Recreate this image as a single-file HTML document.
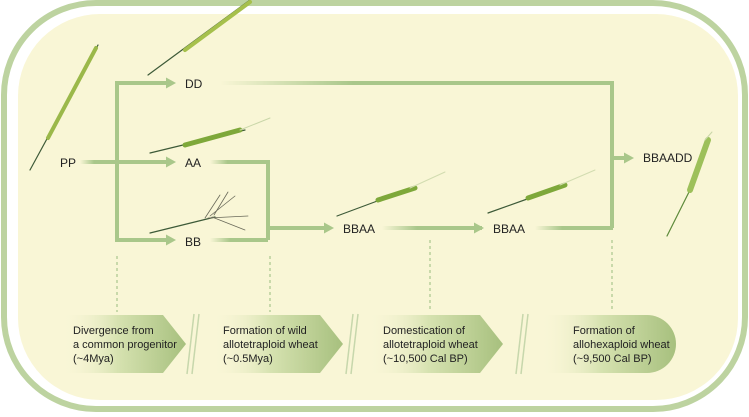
<!DOCTYPE html>
<html><head><meta charset="utf-8"><style>
html,body{margin:0;padding:0;background:#fff;}
svg{display:block;font-family:"Liberation Sans",Arial,sans-serif;}
</style></head><body>
<svg width="749" height="417" viewBox="0 0 749 417" xmlns="http://www.w3.org/2000/svg">
<defs>
<linearGradient id="fl" x1="0" x2="1" y1="0" y2="0"><stop offset="0" stop-color="#a9c78a" stop-opacity="0"/><stop offset="0.35" stop-color="#a9c78a"/><stop offset="1" stop-color="#a9c78a"/></linearGradient>
<linearGradient id="ch" x1="0" x2="1" y1="0" y2="0"><stop offset="0" stop-color="#f8f5d6" stop-opacity="0"/><stop offset="0.45" stop-color="#d6e2b0"/><stop offset="1" stop-color="#a7c07e"/></linearGradient>
<marker id="ah" markerWidth="10" markerHeight="11" refX="6" refY="5.5" orient="auto" markerUnits="userSpaceOnUse"><path d="M0,0 L10,5.5 L0,11 Z" fill="#a9c78a"/></marker>
</defs>
<rect width="749" height="417" fill="#fff"/>
<rect x="4" y="3" width="741" height="406" rx="92" fill="none" stroke="#bdd3a0" stroke-width="6"/>
<rect x="18" y="14" width="720" height="386" rx="82" fill="#f9f6d6"/>

<g fill="none" stroke="#a9c78a" stroke-width="4">
<rect x="80" y="160" width="40" height="4" fill="url(#fl)" stroke="none"/>
<path d="M172,83 H117 V240 H172"/>
<path d="M117,162 H172"/>
<line x1="170" y1="83" x2="172" y2="83" marker-end="url(#ah)"/>
<line x1="170" y1="162" x2="172" y2="162" marker-end="url(#ah)"/>
<line x1="170" y1="240" x2="172" y2="240" marker-end="url(#ah)"/>
<rect x="220" y="81" width="380" height="4" fill="url(#fl)" stroke="none"/>
<path d="M590,83 H612 V228"/>
<path d="M612,158 H630" marker-end="url(#ah)"/>
<rect x="210" y="160" width="50" height="4" fill="url(#fl)" stroke="none"/>
<path d="M255,162 H268 V240"/>
<rect x="210" y="238" width="58" height="4" fill="url(#fl)" stroke="none"/>
<path d="M268,228 H330" marker-end="url(#ah)"/>
<rect x="382" y="226" width="100" height="4" fill="url(#fl)" stroke="none"/>
<path d="M470,228 H480" marker-end="url(#ah)"/>
<rect x="535" y="226" width="78" height="4" fill="url(#fl)" stroke="none"/>
<path d="M590,228 H612"/>
</g>
<g stroke="#b9cf9c" stroke-width="1.5" stroke-dasharray="3,3">
<line x1="117" y1="256" x2="117" y2="312"/>
<line x1="270" y1="256" x2="270" y2="312"/>
<line x1="430" y1="240" x2="430" y2="312"/>
<line x1="612" y1="240" x2="612" y2="312"/>
</g>

<g font-size="12" fill="#222">
<text x="60" y="167">PP</text>
<text x="185" y="88">DD</text>
<text x="185" y="167">AA</text>
<text x="185" y="246">BB</text>
<text x="343" y="233">BBAA</text>
<text x="493" y="233">BBAA</text>
<text x="643" y="162">BBAADD</text>
</g>

<!-- wheat ears -->
<g stroke-linecap="round">
<line x1="30" y1="170" x2="98" y2="45" stroke="#3d5a38" stroke-width="1.2"/>
<line x1="48" y1="138" x2="96" y2="48" stroke="#9bb84a" stroke-width="4"/>
<line x1="148" y1="75" x2="250" y2="0" stroke="#3d5a38" stroke-width="1.2"/>
<line x1="185" y1="50" x2="250" y2="2" stroke="#a6c04c" stroke-width="4"/>
<line x1="150" y1="153" x2="245" y2="130" stroke="#3d5a38" stroke-width="1.2"/>
<line x1="185" y1="145" x2="240" y2="130" stroke="#7ea83a" stroke-width="5"/>
<line x1="240" y1="130" x2="270" y2="118" stroke="#c9d6a8" stroke-width="1"/>
<line x1="150" y1="233" x2="215" y2="217" stroke="#3d5a38" stroke-width="1.2"/>
<g stroke="#6a6a5a" stroke-width="0.8"><line x1="205" y1="218" x2="220" y2="195"/><line x1="210" y1="216" x2="235" y2="196"/><line x1="208" y1="218" x2="248" y2="216"/><line x1="212" y1="217" x2="245" y2="230"/><line x1="214" y1="215" x2="228" y2="192"/></g>
<line x1="337" y1="216" x2="380" y2="200" stroke="#3d5a38" stroke-width="1.2"/>
<line x1="378" y1="200" x2="415" y2="188" stroke="#7ea83a" stroke-width="5"/>
<line x1="410" y1="188" x2="445" y2="172" stroke="#d2dcb0" stroke-width="1"/>
<line x1="488" y1="213" x2="530" y2="198" stroke="#3d5a38" stroke-width="1.2"/>
<line x1="528" y1="198" x2="565" y2="185" stroke="#7ea83a" stroke-width="5"/>
<line x1="560" y1="185" x2="595" y2="170" stroke="#d2dcb0" stroke-width="1"/>
<line x1="667" y1="236" x2="690" y2="190" stroke="#5d8a3a" stroke-width="1.2"/>
<line x1="690" y1="190" x2="708" y2="140" stroke="#9dc05a" stroke-width="6"/>
<line x1="705" y1="140" x2="712" y2="132" stroke="#c9d6a8" stroke-width="1"/>
</g>

<!-- bottom chevrons -->
<path d="M62,315 H163 L186,344 L163,373 H62 Z" fill="url(#ch)"/>
<path d="M212,315 H320 L343,344 L320,373 H212 Z" fill="url(#ch)"/>
<path d="M368,315 H480 L503,344 L480,373 H368 Z" fill="url(#ch)"/>
<path d="M540,315 H647 A29,29 0 0 1 647,373 H540 Z" fill="url(#ch)"/>
<g stroke="#c7d7ac" stroke-width="1.5">
<line x1="187" y1="374" x2="194" y2="314"/><line x1="192" y1="374" x2="199" y2="314"/>
<line x1="346" y1="374" x2="353" y2="314"/><line x1="351" y1="374" x2="358" y2="314"/>
<line x1="516" y1="374" x2="523" y2="314"/><line x1="521" y1="374" x2="528" y2="314"/>
</g>
<g font-size="11" fill="#222">
<text x="73" y="334">Divergence from</text><text x="73" y="348">a common progenitor</text><text x="73" y="362">(~4Mya)</text>
<text x="223" y="334">Formation of wild</text><text x="223" y="348">allotetraploid wheat</text><text x="223" y="362">(~0.5Mya)</text>
<text x="383" y="334">Domestication of</text><text x="383" y="348">allotetraploid wheat</text><text x="383" y="362">(~10,500 Cal BP)</text>
<text x="573" y="334">Formation of</text><text x="573" y="348">allohexaploid wheat</text><text x="573" y="362">(~9,500 Cal BP)</text>
</g>
</svg>
</body></html>
